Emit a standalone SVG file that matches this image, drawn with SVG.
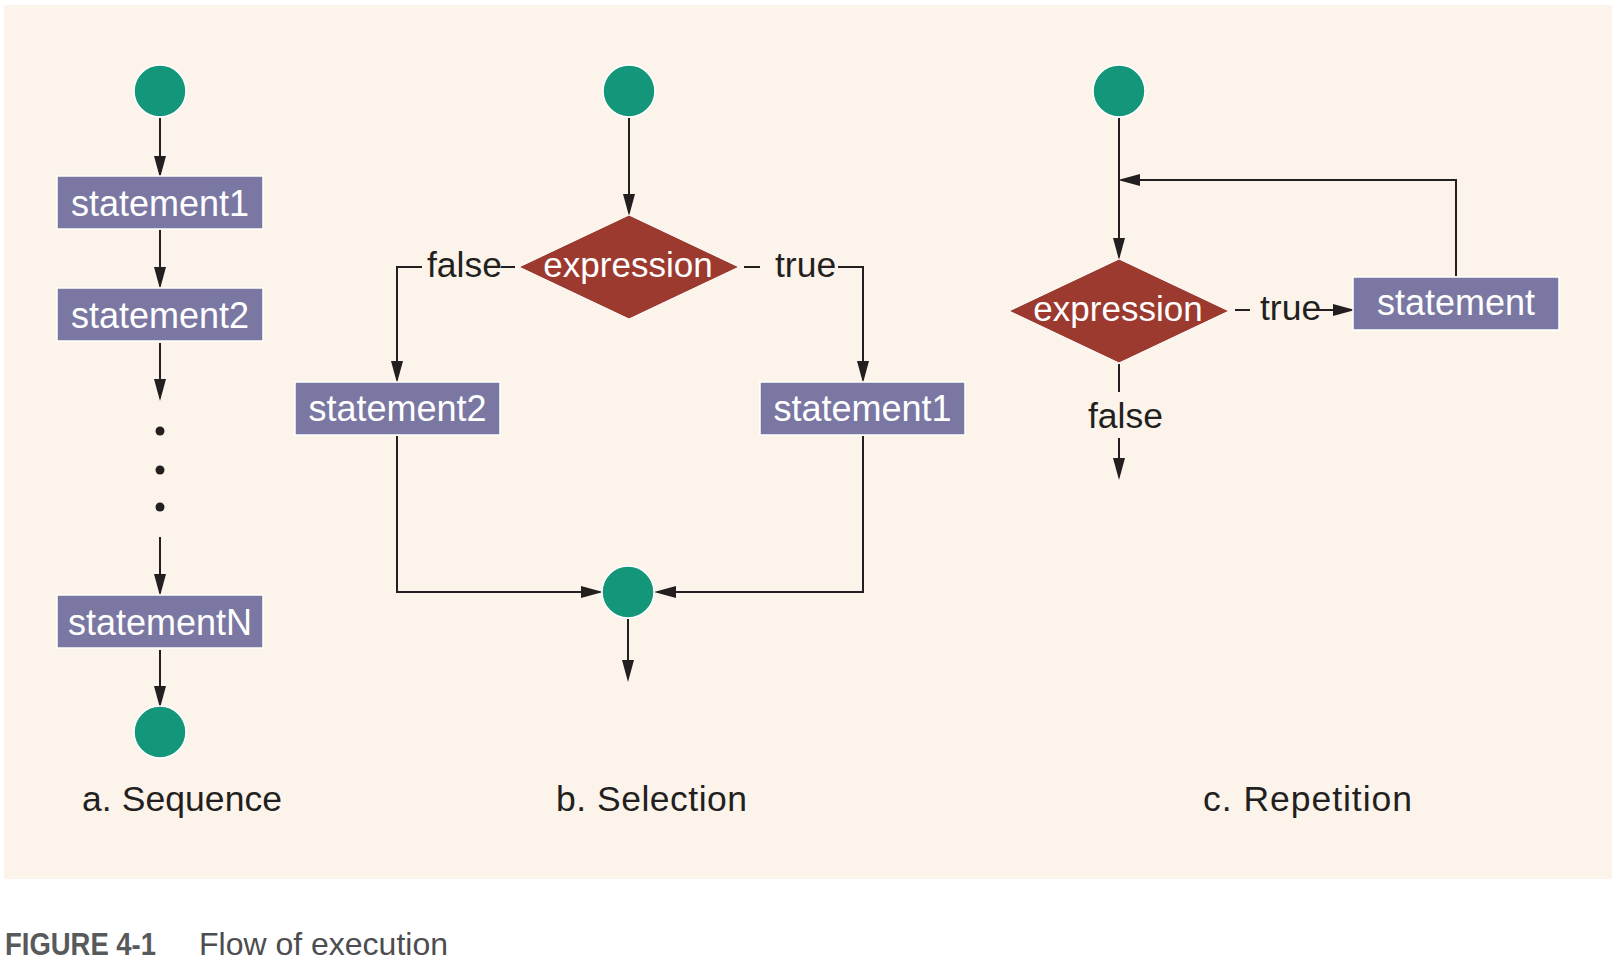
<svg xmlns="http://www.w3.org/2000/svg" width="1617" height="961" viewBox="0 0 1617 961">
<defs>
<marker id="ah" viewBox="0 0 22 12" markerWidth="22" markerHeight="12" refX="19" refY="6" orient="auto" markerUnits="userSpaceOnUse">
<path d="M0,0 L22,6 L0,12 Z" fill="#231F20"/>
</marker>
<style>
.ln{fill:none;stroke:#231F20;stroke-width:2}
.ar{fill:none;stroke:#231F20;stroke-width:2;marker-end:url(#ah)}
.dot{fill:#13967A;stroke:#ffffff;stroke-width:1.5}
.box{fill:#7B77A3;stroke:#ffffff;stroke-width:1.5}
.dia{fill:#9C3A2F;stroke:#ffffff;stroke-width:1}
.nt{font-family:"Liberation Sans",Arial,sans-serif;font-size:36px;fill:#ffffff;text-anchor:middle}
.lb{font-family:"Liberation Sans",Arial,sans-serif;font-size:35.5px;fill:#231F20}
.bd{fill:#231F20}
</style>
</defs>
<rect x="4" y="5" width="1608" height="874" fill="#FCF4EA"/>

<g id="connectors">
<!-- sequence -->
<path class="ar" d="M160,118 V175"/>
<path class="ar" d="M160,230 V286"/>
<path class="ar" d="M160,343 V398"/>
<path class="ar" d="M160,537 V593"/>
<path class="ar" d="M160,650 V705"/>
<!-- selection -->
<path class="ar" d="M629,118 V213"/>
<path class="ln" d="M501,267 H515"/>
<path class="ar" d="M422,267 H397 V380"/>
<path class="ln" d="M744,267 H760"/>
<path class="ar" d="M838,267 H863 V380"/>
<path class="ar" d="M397,436 V592 H600"/>
<path class="ar" d="M863,436 V592 H657"/>
<path class="ar" d="M628,619 V679"/>
<!-- repetition -->
<path class="ar" d="M1119,118 V257"/>
<path class="ar" d="M1456,276 V180 H1121"/>
<path class="ln" d="M1235,310 H1250"/>
<path class="ar" d="M1318,310 H1352"/>
<path class="ln" d="M1119,364 V392"/>
<path class="ar" d="M1119,438 V477"/>
</g>

<g id="seq-start"><circle class="dot" cx="160" cy="91" r="26"/></g>
<g id="seq-statement1"><rect class="box" x="57" y="176" width="206" height="53"/><text class="nt" x="160" y="216">statement1</text></g>
<g id="seq-statement2"><rect class="box" x="57" y="288" width="206" height="53"/><text class="nt" x="160" y="328">statement2</text></g>
<g id="seq-dots">
<circle class="bd" cx="160" cy="431" r="4.5"/>
<circle class="bd" cx="160" cy="470" r="4.5"/>
<circle class="bd" cx="160" cy="507" r="4.5"/>
</g>
<g id="seq-statementN"><rect class="box" x="57" y="595" width="206" height="53"/><text class="nt" x="160" y="635">statementN</text></g>
<g id="seq-end"><circle class="dot" cx="160" cy="732" r="26"/></g>
<g id="label-a"><text class="lb" x="82" y="811" textLength="200">a. Sequence</text></g>

<g id="sel-start"><circle class="dot" cx="629" cy="91" r="26"/></g>
<g id="sel-expression"><path class="dia" d="M629,215 L739,267 L629,319 L519,267 Z"/><text class="nt" x="628" y="277" style="font-size:35px">expression</text></g>
<g id="sel-false"><text class="lb" x="427" y="277">false</text></g>
<g id="sel-true"><text class="lb" x="775" y="277">true</text></g>
<g id="sel-statement2"><rect class="box" x="295" y="382" width="205" height="53"/><text class="nt" x="397.5" y="421">statement2</text></g>
<g id="sel-statement1"><rect class="box" x="760" y="382" width="205" height="53"/><text class="nt" x="862.5" y="421">statement1</text></g>
<g id="sel-merge"><circle class="dot" cx="628" cy="592" r="26"/></g>
<g id="label-b"><text class="lb" x="556" y="811" textLength="191">b. Selection</text></g>

<g id="rep-start"><circle class="dot" cx="1119" cy="91" r="26"/></g>
<g id="rep-expression"><path class="dia" d="M1119,259 L1229,311 L1119,363 L1009,311 Z"/><text class="nt" x="1118" y="321" style="font-size:35px">expression</text></g>
<g id="rep-true"><text class="lb" x="1260" y="320">true</text></g>
<g id="rep-statement"><rect class="box" x="1353" y="277" width="206" height="53"/><text class="nt" x="1456" y="315">statement</text></g>
<g id="rep-false"><text class="lb" x="1088" y="428">false</text></g>
<g id="label-c"><text class="lb" x="1203" y="811" textLength="209">c. Repetition</text></g>

<g id="caption">
<text x="5" y="955" font-family="'Liberation Sans',Arial,sans-serif" font-size="31" font-weight="bold" fill="#58595B" textLength="151" lengthAdjust="spacingAndGlyphs">FIGURE 4-1</text>
<text x="199" y="955" font-family="'Liberation Sans',Arial,sans-serif" font-size="32" fill="#4D4D4F" textLength="249" lengthAdjust="spacingAndGlyphs">Flow of execution</text>
</g>
</svg>
